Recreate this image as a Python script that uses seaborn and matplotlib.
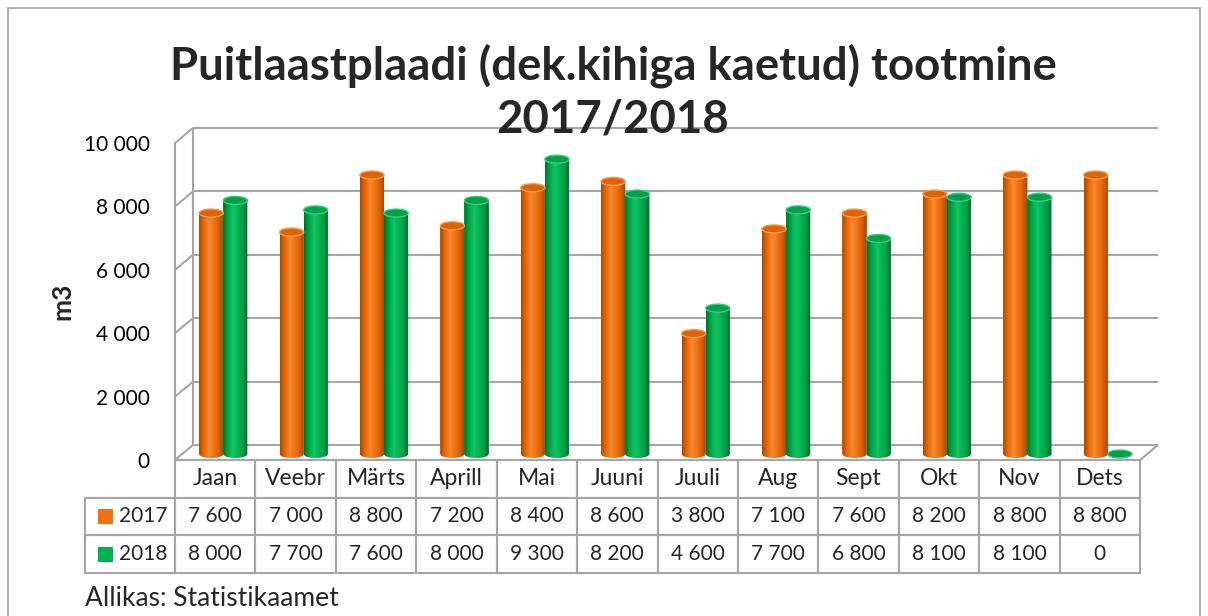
import numpy as np
import pandas as pd
import matplotlib
matplotlib.use("Agg")
import matplotlib.pyplot as plt
import seaborn as sns
from matplotlib.patches import Ellipse, Rectangle, Polygon
from matplotlib.colors import LinearSegmentedColormap

# ---------------- data ----------------
months = ["Jaan", "Veebr", "Märts", "Aprill", "Mai", "Juuni", "Juuli", "Aug", "Sept", "Okt", "Nov", "Dets"]
years = ["2017", "2018"]
v2017 = [7600, 7000, 8800, 7200, 8400, 8600, 3800, 7100, 7600, 8200, 8800, 8800]
v2018 = [8000, 7700, 7600, 8000, 9300, 8200, 4600, 7700, 6800, 8100, 8100, 0]
yticks = [0, 2000, 4000, 6000, 8000, 10000]
ytick_labels = ["0", "2 000", "4 000", "6 000", "8 000", "10 000"]
title = "Puitlaastplaadi (dek.kihiga kaetud) tootmine\n2017/2018"
ylabel = "m3"
source = "Allikas: Statistikaamet"

# ---------------- style ----------------
base_colors = {"2017": "#EE7212", "2018": "#00B050"}
grad_colors = {
    "2017": ["#A94A00", "#E8680A", "#F58A2E", "#F07415", "#D85F05", "#9E4400"],
    "2018": ["#00702E", "#00A648", "#12C463", "#00B454", "#009A44", "#006A2B"],
}
cap_colors = {"2017": ("#DD6308", "#F59A50"), "2018": ("#00A04A", "#3CCB7E")}
grid_col = "#A6A6A6"

sns.set_theme(style="white")
plt.rcParams["font.family"] = ["Lato", "DejaVu Sans"]

W, H = 1208, 616
fig = plt.figure(figsize=(W / 100, H / 100), dpi=100)
L, R, B, T = 175, 1140, 460, 143
ax = fig.add_axes([L / W, 1 - B / H, (R - L) / W, (B - T) / H])

df = pd.DataFrame({
    "month": months * 2,
    "year": [years[0]] * len(months) + [years[1]] * len(months),
    "value": v2017 + v2018,
})
sns.barplot(data=df, x="month", y="value", hue="year", order=months, hue_order=years,
            palette=base_colors, width=0.6, saturation=1, errorbar=None, legend=False, ax=ax,
            zorder=2)

ax.set_xlim(-0.5, len(months) - 0.5)
ax.set_ylim(0, 10000)
px_x = (R - L) / len(months)
px_y = (B - T) / 10000
DX, DY = 18 / px_x, 15 / px_y        # back-wall offset
BX, BY = 8 / px_x, 6 / px_y          # bar depth offset
EH = 8 / px_y                        # ellipse height in data units
xl, xr = -0.5, len(months) - 0.5

# walls / grid
lk = dict(color=grid_col, lw=1.5, clip_on=False, zorder=0.5, solid_capstyle="butt")
for v in yticks:
    ax.plot([xl + DX, xr + DX], [v + DY, v + DY], **lk)
    ax.plot([xl, xl + DX], [v, v + DY], **lk)
ax.plot([xl + DX, xl + DX], [DY, 10000 + DY], **lk)
ax.plot([xr, xr + DX], [0, DY], **lk)
ax.plot([xl, xr], [0, 0], **lk)

# cylinders
for year, cont in zip(years, ax.containers):
    cmap = LinearSegmentedColormap.from_list("c" + year, grad_colors[year])
    grad = np.linspace(0, 1, 256)[np.newaxis, :]
    for p in cont.patches:
        x0, w, h = p.get_x() + BX, p.get_width(), p.get_height()
        y0 = BY
        p.set_x(x0)
        p.set_y(y0)
        p.set_linewidth(0)
        xc = x0 + w / 2
        t = np.linspace(0, np.pi, 40)
        arc = np.column_stack([xc - (w / 2) * np.cos(t), y0 - (EH / 2) * np.sin(t)])
        pts = np.vstack([[x0, y0 + h], arc, [x0 + w, y0 + h]])
        clip = Polygon(pts, closed=True, facecolor="none", edgecolor="none", clip_on=False)
        ax.add_patch(clip)
        im = ax.imshow(grad, extent=(x0, x0 + w, y0 - EH / 2, y0 + h), cmap=cmap,
                       aspect="auto", zorder=2.5, interpolation="bilinear")
        im.set_clip_path(clip)
        face, edge = cap_colors[year]
        ax.add_patch(Ellipse((xc, y0 + h), w, EH, facecolor=face, edgecolor=edge,
                             lw=1.0, zorder=3, clip_on=False))

ax.set_xlim(xl, xr)
ax.set_ylim(0, 10000)

# axes styling
for s in ["top", "right", "bottom"]:
    ax.spines[s].set_visible(False)
ax.spines["left"].set_color(grid_col)
ax.spines["left"].set_linewidth(1.5)
ax.set_xticks([])
ax.set_xlabel("")
ax.set_ylabel("")
ax.set_yticks(yticks)
ax.set_yticklabels(ytick_labels)
ax.tick_params(axis="y", length=0, pad=18, labelsize=15, colors="black")

# data table
def fmt(v):
    return f"{v:,}".replace(",", " ")

cell_text = [[""] + months, ["2017"] + [fmt(v) for v in v2017], ["2018"] + [fmt(v) for v in v2018]]
tb_left = (85 - L) / (R - L)
tb_h = (573 - B) / (B - T)
tbl = ax.table(cellText=cell_text, cellLoc="center",
               colWidths=[90] + [px_x] * len(months),
               bbox=[tb_left, -tb_h, 1 - tb_left, tb_h])
tbl.auto_set_font_size(False)
for (r, c), cell in tbl.get_celld().items():
    cell.set_edgecolor(grid_col)
    cell.set_linewidth(1.5)
    cell.set_facecolor("none")
    cell.get_text().set_fontsize(16.5 if r == 0 else 15)
    if c == 0:
        cell.get_text().set_ha("right")
        cell._loc = "right"
        cell.PAD = 0.08
tbl[0, 0].visible_edges = "B"

# legend keys in table
row_h = tb_h / 3
for i, year in enumerate(years):
    yc = -row_h * (i + 1.5)
    sq_w, sq_h = 15 / (R - L), 15 / (B - T)
    ax.add_patch(Rectangle((tb_left + 13 / (R - L), yc - sq_h / 2), sq_w, sq_h,
                           transform=ax.transAxes, facecolor=base_colors[year],
                           edgecolor="none", clip_on=False, zorder=5))

# texts
fig.text(613 / W, 1 - 92 / H, title, ha="center", va="center", fontsize=32.8,
         fontweight="bold", linespacing=1.3, zorder=10)
fig.text(62 / W, 1 - 301 / H, ylabel, rotation=90, ha="center", va="center",
         fontsize=19, fontweight="bold")
fig.text(85 / W, 1 - 598 / H, source, ha="left", va="center", fontsize=19)

# outer frame
fig.add_artist(Rectangle((8 / W, -0.05), (1200 - 8) / W, 1.05 - 8 / H,
                         transform=fig.transFigure, facecolor="none",
                         edgecolor="#A0A0A0", lw=1.2))

fig.savefig("out.png", dpi=100)
